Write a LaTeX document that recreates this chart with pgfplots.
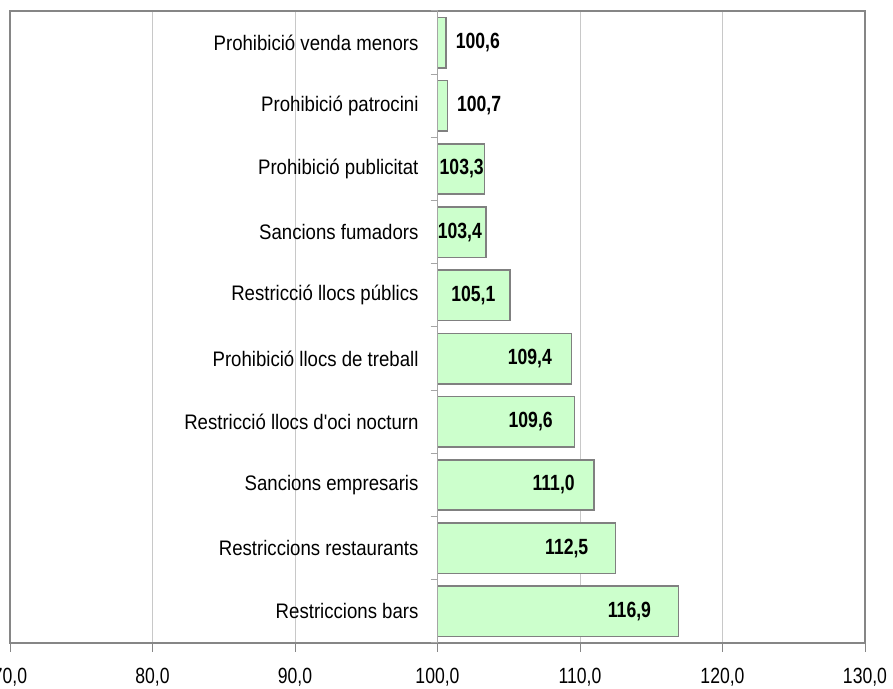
\documentclass[border=0pt]{standalone}
\usepackage{pgfplots}
\usepackage{pgfplotstable}
\pgfplotsset{compat=1.18}
\usepackage{fontspec}
\setmainfont[FakeStretch=0.886]{Liberation Sans}
\newfontfamily\catfont[FakeStretch=0.886,Ligatures=TeXOff]{Liberation Sans}
\newfontfamily\numfont[FakeStretch=0.80]{Liberation Sans}
\definecolor{framegray}{RGB}{134,134,134}
\definecolor{gridgray}{RGB}{200,200,200}
\definecolor{axisgray}{RGB}{165,165,165}
\definecolor{barfill}{RGB}{204,255,204}
\definecolor{bardraw}{RGB}{128,128,128}
\pgfplotstableread{
pos val lx lab
9 100.6 102.83 100,6
8 100.7 102.92 100,7
7 103.3 101.70 103,3
6 103.4 101.57 103,4
5 105.1 102.51 105,1
4 109.4 106.48 109,4
3 109.6 106.54 109,6
2 111.0 108.15 111,0
1 112.5 109.07 112,5
0 116.9 113.47 116,9
}\datatable
\begin{document}
\begin{tikzpicture}
\begin{axis}[
  scale only axis, width=427.5pt, height=316pt,
  at={(0,0)}, anchor=south west,
  x coord trafo/.code={\pgfmathparse{#1-100}},
  x coord inv trafo/.code={\pgfmathparse{#1+100}},
  xmin=70, xmax=130, ymin=-0.5, ymax=9.5,
  xtick={70,80,90,100,110,120,130},
  xticklabels={{70,0},{80,0},{90,0},{100,0},{110,0},{120,0},{130,0}},
  xticklabel style={font=\numfont\fontsize{11}{13}\selectfont, text=black, yshift=-4.5pt},
  ytick=\empty, xtick pos=bottom,
  xmajorgrids, grid style={gridgray, line width=0.5pt},
  axis line style={framegray, line width=1pt},
  tick align=outside, major tick length=4.5pt,
  xtick style={framegray, line width=0.5pt},
  clip=false,
]
\addplot[xbar, bar shift=0pt, bar width=0.8, fill=barfill, draw=bardraw, line width=0.8pt]
  table[x=val, y=pos] {\datatable};
\addplot[draw=none, mark=none, nodes near coords, point meta=explicit symbolic,
  nodes near coords style={anchor=center, font=\numfont\bfseries\fontsize{11}{13}\selectfont, text=black}]
  table[x=lx, y=pos, meta=lab] {\datatable};
\end{axis}
\begin{axis}[
  scale only axis, width=427.5pt, height=316pt,
  at={(0,0)}, anchor=south west,
  xmin=-30, xmax=30, ymin=-0.5, ymax=9.5,
  axis x line=none, axis y line=middle,
  axis line style={-, axisgray, line width=0.6pt},
  ytick={0,1,2,3,4,5,6,7,8,9},
  yticklabels={Restriccions bars, Restriccions restaurants, Sancions empresaris, Restricció llocs d'oci nocturn, Prohibició llocs de treball, Restricció llocs públics, Sancions fumadors, Prohibició publicitat, Prohibició patrocini, Prohibició venda menors},
  minor ytick={-0.5,0.5,1.5,2.5,3.5,4.5,5.5,6.5,7.5,8.5,9.5},
  major tick length=0pt, minor tick length=3.5pt,
  tick align=outside,
  minor y tick style={axisgray, line width=0.5pt},
  yticklabel style={font=\catfont\fontsize{10.5}{12}\selectfont, anchor=east, xshift=-6pt, text=black},
]
\end{axis}
\pgfresetboundingbox
\useasboundingbox (-5pt,-23pt) rectangle (441.5pt,321.5pt);
\end{tikzpicture}
\end{document}
